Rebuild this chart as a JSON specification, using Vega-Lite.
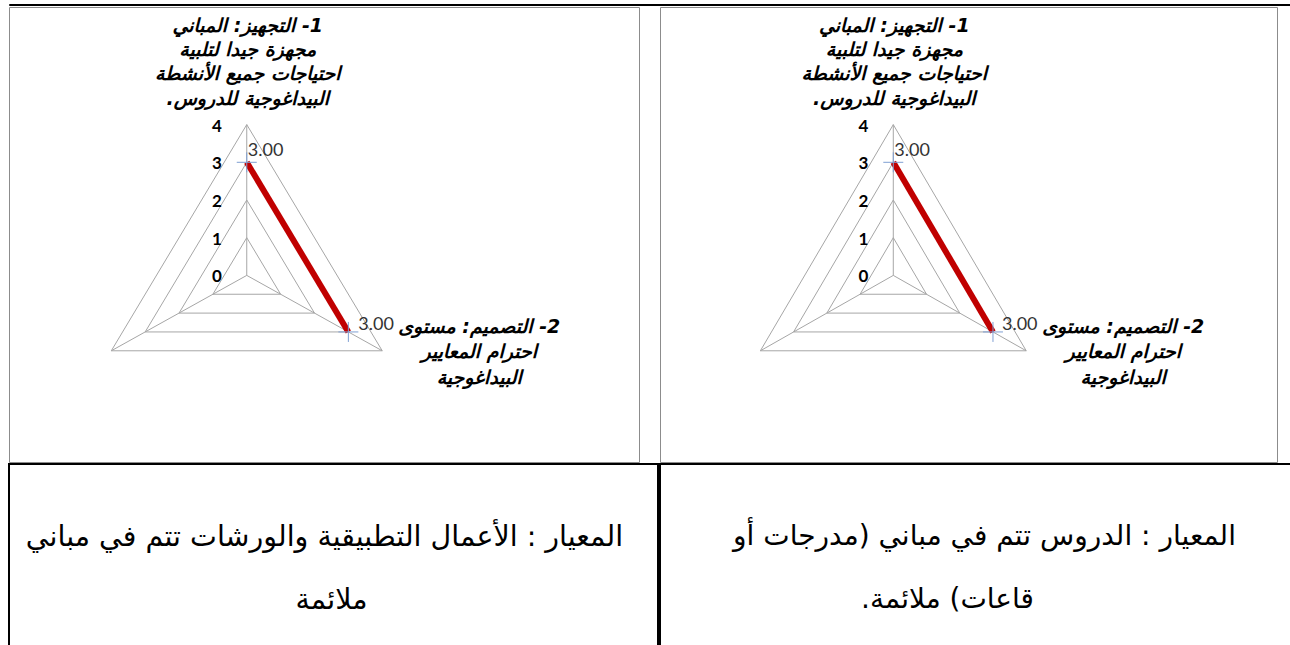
{
  "$schema": "https://vega.github.io/schema/vega-lite/v6.json",
  "padding": {"left": 8, "top": 3, "right": 0, "bottom": 0},
  "spacing": 0,
  "config": {"view": {"stroke": null}, "concat": {"spacing": 0}},
  "datasets": {
    "series": [{"axis": 0, "value": 3}, {"axis": 1, "value": 3}, {"axis": 2, "value": null}],
    "grid": [
      {"value": 1, "axis": 0}, {"value": 1, "axis": 1}, {"value": 1, "axis": 2}, {"value": 1, "axis": 3},
      {"value": 2, "axis": 0}, {"value": 2, "axis": 1}, {"value": 2, "axis": 2}, {"value": 2, "axis": 3},
      {"value": 3, "axis": 0}, {"value": 3, "axis": 1}, {"value": 3, "axis": 2}, {"value": 3, "axis": 3},
      {"value": 4, "axis": 0}, {"value": 4, "axis": 1}, {"value": 4, "axis": 2}, {"value": 4, "axis": 3}
    ],
    "spokes": [
      {"axis": 0, "value": 0}, {"axis": 0, "value": 4},
      {"axis": 1, "value": 0}, {"axis": 1, "value": 4},
      {"axis": 2, "value": 0}, {"axis": 2, "value": 4}
    ],
    "ticks": [{"axis": 0, "value": 0}, {"axis": 0, "value": 1}, {"axis": 0, "value": 2}, {"axis": 0, "value": 3}, {"axis": 0, "value": 4}],
    "categories": [
      {"axis": 0, "label": ["\u202b1- التجهيز: المباني\u202c", "\u202bمجهزة جيدا لتلبية\u202c", "\u202bاحتياجات جميع الأنشطة\u202c", "\u202bالبيداغوجية للدروس.\u202c"]},
      {"axis": 1, "label": ["\u202b2- التصميم: مستوى\u202c", "\u202bاحترام المعايير\u202c", "\u202bالبيداغوجية\u202c"]}
    ],
    "cells": [
      {"cell": "left", "line": 1, "text": "\u202bالمعيار : الأعمال التطبيقية والورشات تتم في مباني\u202c"},
      {"cell": "left", "line": 2, "text": "\u202bملائمة\u202c"},
      {"cell": "right", "line": 1, "text": "\u202bالمعيار : الدروس تتم في مباني (مدرجات أو\u202c"},
      {"cell": "right", "line": 2, "text": "\u202bقاعات) ملائمة.\u202c"}
    ]
  },
  "vconcat": [
    {
      "width": 1290, "height": 1,
      "view": {"stroke": "#000000", "strokeWidth": 1},
      "data": {"values": []},
      "mark": "point"
    },
    {
      "spacing": 19,
      "hconcat": [
        {
          "width": 630, "height": 455,
          "view": {"stroke": "#8c8c8c", "strokeWidth": 1},
          "encoding": {
            "x": {"field": "px", "type": "quantitative", "scale": {"domain": [-6.08, 10.03], "nice": false, "zero": false}, "axis": null},
            "y": {"field": "py", "type": "quantitative", "scale": {"domain": [-4.95, 7.12], "nice": false, "zero": false}, "axis": null}
          },
          "layer": [
            {
              "data": {"name": "grid"},
              "transform": [
                {"calculate": "datum.value * sin(datum.axis * 2 * PI / 3)", "as": "px"},
                {"calculate": "datum.value * cos(datum.axis * 2 * PI / 3)", "as": "py"}
              ],
              "mark": {"type": "line", "stroke": "#a6a6a6", "strokeWidth": 1},
              "encoding": {"detail": {"field": "value", "type": "nominal"}, "order": {"field": "axis", "type": "quantitative"}}
            },
            {
              "data": {"name": "spokes"},
              "transform": [
                {"calculate": "datum.value * sin(datum.axis * 2 * PI / 3)", "as": "px"},
                {"calculate": "datum.value * cos(datum.axis * 2 * PI / 3)", "as": "py"}
              ],
              "mark": {"type": "line", "stroke": "#a6a6a6", "strokeWidth": 1},
              "encoding": {"detail": {"field": "axis", "type": "nominal"}, "order": {"field": "value", "type": "quantitative"}}
            },
            {
              "data": {"name": "series"},
              "transform": [
                {"filter": "isValid(datum.value)"},
                {"calculate": "datum.value * sin(datum.axis * 2 * PI / 3)", "as": "px"},
                {"calculate": "datum.value * cos(datum.axis * 2 * PI / 3)", "as": "py"}
              ],
              "mark": {"type": "line", "stroke": "#c00000", "strokeWidth": 6},
              "encoding": {"order": {"field": "axis", "type": "quantitative"}}
            },
            {
              "data": {"name": "series"},
              "transform": [
                {"filter": "isValid(datum.value)"},
                {"calculate": "datum.value * sin(datum.axis * 2 * PI / 3)", "as": "px"},
                {"calculate": "datum.value * cos(datum.axis * 2 * PI / 3)", "as": "py"}
              ],
              "mark": {"type": "point", "shape": "M-1,0L1,0M0,-1L0,1", "filled": false, "size": 400, "stroke": "#7f9fd3", "strokeWidth": 1, "opacity": 1}
            },
            {
              "data": {"name": "series"},
              "transform": [
                {"filter": "datum.axis == 0 && isValid(datum.value)"},
                {"calculate": "datum.value * sin(datum.axis * 2 * PI / 3)", "as": "px"},
                {"calculate": "datum.value * cos(datum.axis * 2 * PI / 3)", "as": "py"}
              ],
              "mark": {"type": "text", "align": "left", "baseline": "middle", "dx": 1, "dy": -11, "font": "Lato", "fontSize": 18, "color": "#333333"},
              "encoding": {"text": {"field": "value", "type": "quantitative", "format": ".2f"}}
            },
            {
              "data": {"name": "series"},
              "transform": [
                {"filter": "datum.axis == 1 && isValid(datum.value)"},
                {"calculate": "datum.value * sin(datum.axis * 2 * PI / 3)", "as": "px"},
                {"calculate": "datum.value * cos(datum.axis * 2 * PI / 3)", "as": "py"}
              ],
              "mark": {"type": "text", "align": "left", "baseline": "middle", "dx": 10, "dy": -7, "font": "Lato", "fontSize": 18, "color": "#333333"},
              "encoding": {"text": {"field": "value", "type": "quantitative", "format": ".2f"}}
            },
            {
              "data": {"name": "ticks"},
              "transform": [
                {"calculate": "datum.value * sin(datum.axis * 2 * PI / 3)", "as": "px"},
                {"calculate": "datum.value * cos(datum.axis * 2 * PI / 3)", "as": "py"}
              ],
              "mark": {"type": "text", "align": "right", "baseline": "middle", "dx": -25, "dy": 2, "font": "Lato", "fontSize": 17, "fontWeight": "bold", "color": "#000000"},
              "encoding": {"text": {"field": "value", "type": "quantitative", "format": "d"}}
            },
            {
              "data": {"name": "categories"},
              "transform": [
                {"filter": "datum.axis == 0"},
                {"calculate": "4 * sin(datum.axis * 2 * PI / 3)", "as": "px"},
                {"calculate": "4 * cos(datum.axis * 2 * PI / 3)", "as": "py"}
              ],
              "mark": {"type": "text", "align": "center", "baseline": "middle", "dx": 1, "dy": -99, "lineHeight": 24.3, "font": "DejaVu Sans", "fontSize": 19, "fontWeight": "bold", "fontStyle": "italic", "color": "#000000"},
              "encoding": {"text": {"field": "label", "type": "nominal"}}
            },
            {
              "data": {"name": "categories"},
              "transform": [
                {"filter": "datum.axis == 1"},
                {"calculate": "4 * sin(datum.axis * 2 * PI / 3)", "as": "px"},
                {"calculate": "4 * cos(datum.axis * 2 * PI / 3)", "as": "py"}
              ],
              "mark": {"type": "text", "align": "center", "baseline": "middle", "dx": 97, "dy": -24, "lineHeight": 25.5, "font": "DejaVu Sans", "fontSize": 19, "fontWeight": "bold", "fontStyle": "italic", "color": "#000000"},
              "encoding": {"text": {"field": "label", "type": "nominal"}}
            }
          ]
        },
        {
          "width": 617, "height": 455,
          "view": {"stroke": "#8c8c8c", "strokeWidth": 1},
          "encoding": {
            "x": {"field": "px", "type": "quantitative", "scale": {"domain": [-6.08, 10.0], "nice": false, "zero": false}, "axis": null},
            "y": {"field": "py", "type": "quantitative", "scale": {"domain": [-4.95, 7.12], "nice": false, "zero": false}, "axis": null}
          },
          "layer": [
            {
              "data": {"name": "grid"},
              "transform": [
                {"calculate": "datum.value * sin(datum.axis * 2 * PI / 3)", "as": "px"},
                {"calculate": "datum.value * cos(datum.axis * 2 * PI / 3)", "as": "py"}
              ],
              "mark": {"type": "line", "stroke": "#a6a6a6", "strokeWidth": 1},
              "encoding": {"detail": {"field": "value", "type": "nominal"}, "order": {"field": "axis", "type": "quantitative"}}
            },
            {
              "data": {"name": "spokes"},
              "transform": [
                {"calculate": "datum.value * sin(datum.axis * 2 * PI / 3)", "as": "px"},
                {"calculate": "datum.value * cos(datum.axis * 2 * PI / 3)", "as": "py"}
              ],
              "mark": {"type": "line", "stroke": "#a6a6a6", "strokeWidth": 1},
              "encoding": {"detail": {"field": "axis", "type": "nominal"}, "order": {"field": "value", "type": "quantitative"}}
            },
            {
              "data": {"name": "series"},
              "transform": [
                {"filter": "isValid(datum.value)"},
                {"calculate": "datum.value * sin(datum.axis * 2 * PI / 3)", "as": "px"},
                {"calculate": "datum.value * cos(datum.axis * 2 * PI / 3)", "as": "py"}
              ],
              "mark": {"type": "line", "stroke": "#c00000", "strokeWidth": 6},
              "encoding": {"order": {"field": "axis", "type": "quantitative"}}
            },
            {
              "data": {"name": "series"},
              "transform": [
                {"filter": "isValid(datum.value)"},
                {"calculate": "datum.value * sin(datum.axis * 2 * PI / 3)", "as": "px"},
                {"calculate": "datum.value * cos(datum.axis * 2 * PI / 3)", "as": "py"}
              ],
              "mark": {"type": "point", "shape": "M-1,0L1,0M0,-1L0,1", "filled": false, "size": 400, "stroke": "#7f9fd3", "strokeWidth": 1, "opacity": 1}
            },
            {
              "data": {"name": "series"},
              "transform": [
                {"filter": "datum.axis == 0 && isValid(datum.value)"},
                {"calculate": "datum.value * sin(datum.axis * 2 * PI / 3)", "as": "px"},
                {"calculate": "datum.value * cos(datum.axis * 2 * PI / 3)", "as": "py"}
              ],
              "mark": {"type": "text", "align": "left", "baseline": "middle", "dx": 1, "dy": -11, "font": "Lato", "fontSize": 18, "color": "#333333"},
              "encoding": {"text": {"field": "value", "type": "quantitative", "format": ".2f"}}
            },
            {
              "data": {"name": "series"},
              "transform": [
                {"filter": "datum.axis == 1 && isValid(datum.value)"},
                {"calculate": "datum.value * sin(datum.axis * 2 * PI / 3)", "as": "px"},
                {"calculate": "datum.value * cos(datum.axis * 2 * PI / 3)", "as": "py"}
              ],
              "mark": {"type": "text", "align": "left", "baseline": "middle", "dx": 9, "dy": -7, "font": "Lato", "fontSize": 18, "color": "#333333"},
              "encoding": {"text": {"field": "value", "type": "quantitative", "format": ".2f"}}
            },
            {
              "data": {"name": "ticks"},
              "transform": [
                {"calculate": "datum.value * sin(datum.axis * 2 * PI / 3)", "as": "px"},
                {"calculate": "datum.value * cos(datum.axis * 2 * PI / 3)", "as": "py"}
              ],
              "mark": {"type": "text", "align": "right", "baseline": "middle", "dx": -25, "dy": 2, "font": "Lato", "fontSize": 17, "fontWeight": "bold", "color": "#000000"},
              "encoding": {"text": {"field": "value", "type": "quantitative", "format": "d"}}
            },
            {
              "data": {"name": "categories"},
              "transform": [
                {"filter": "datum.axis == 0"},
                {"calculate": "4 * sin(datum.axis * 2 * PI / 3)", "as": "px"},
                {"calculate": "4 * cos(datum.axis * 2 * PI / 3)", "as": "py"}
              ],
              "mark": {"type": "text", "align": "center", "baseline": "middle", "dx": 1, "dy": -99, "lineHeight": 24.3, "font": "DejaVu Sans", "fontSize": 19, "fontWeight": "bold", "fontStyle": "italic", "color": "#000000"},
              "encoding": {"text": {"field": "label", "type": "nominal"}}
            },
            {
              "data": {"name": "categories"},
              "transform": [
                {"filter": "datum.axis == 1"},
                {"calculate": "4 * sin(datum.axis * 2 * PI / 3)", "as": "px"},
                {"calculate": "4 * cos(datum.axis * 2 * PI / 3)", "as": "py"}
              ],
              "mark": {"type": "text", "align": "center", "baseline": "middle", "dx": 97, "dy": -24, "lineHeight": 25.5, "font": "DejaVu Sans", "fontSize": 19, "fontWeight": "bold", "fontStyle": "italic", "color": "#000000"},
              "encoding": {"text": {"field": "label", "type": "nominal"}}
            }
          ]
        }
      ]
    },
    {
      "spacing": 0,
      "hconcat": [
        {
          "width": 649, "height": 186,
          "view": {"stroke": "#000000", "strokeWidth": 2},
          "data": {"name": "cells"},
          "transform": [{"filter": "datum.cell == 'left'"}],
          "encoding": {
            "x": {"field": "cell", "type": "nominal", "scale": {"type": "band", "paddingInner": 0, "paddingOuter": 0}, "axis": null},
            "y": {"field": "line", "type": "ordinal", "scale": {"type": "point", "domain": [1, 2], "range": [73, 136], "padding": 0}, "axis": null},
            "text": {"field": "text", "type": "nominal"}
          },
          "layer": [
            {
              "transform": [{"filter": "datum.line == 1"}],
              "mark": {"type": "text", "align": "center", "baseline": "middle", "dx": -9, "font": "DejaVu Sans", "fontSize": 28.5, "color": "#000000"}
            },
            {
              "transform": [{"filter": "datum.line == 2"}],
              "mark": {"type": "text", "align": "center", "baseline": "middle", "dx": -2, "font": "DejaVu Sans", "fontSize": 28.5, "color": "#000000"}
            }
          ]
        },
        {
          "width": 649, "height": 186,
          "view": {"stroke": "#000000", "strokeWidth": 2},
          "data": {"name": "cells"},
          "transform": [{"filter": "datum.cell == 'right'"}],
          "encoding": {
            "x": {"field": "cell", "type": "nominal", "scale": {"type": "band", "paddingInner": 0, "paddingOuter": 0}, "axis": null},
            "y": {"field": "line", "type": "ordinal", "scale": {"type": "point", "domain": [1, 2], "range": [73, 136], "padding": 0}, "axis": null},
            "text": {"field": "text", "type": "nominal"}
          },
          "layer": [
            {
              "transform": [{"filter": "datum.line == 1"}],
              "mark": {"type": "text", "align": "center", "baseline": "middle", "dx": 0, "font": "DejaVu Sans", "fontSize": 28, "color": "#000000"}
            },
            {
              "transform": [{"filter": "datum.line == 2"}],
              "mark": {"type": "text", "align": "center", "baseline": "middle", "dx": -37, "font": "DejaVu Sans", "fontSize": 28, "color": "#000000"}
            }
          ]
        }
      ]
    }
  ]
}
